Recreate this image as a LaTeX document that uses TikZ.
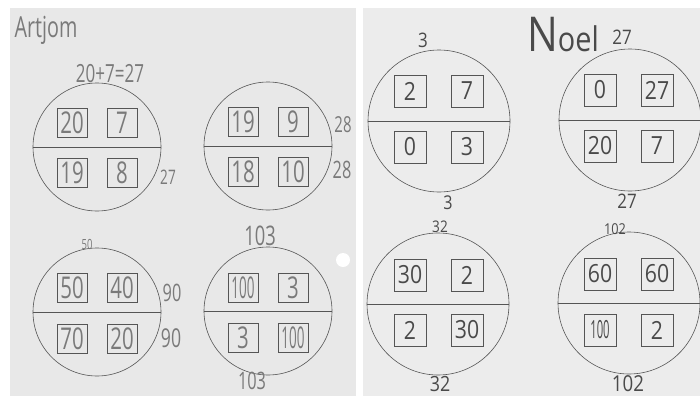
\documentclass[tikz,border=0pt]{standalone}
\usepackage{fontspec}
\newfontfamily\lh[FakeStretch=0.68]{Open Sans}
\newfontfamily\rh[FakeStretch=0.85]{Open Sans}
\newfontfamily\nh[FakeStretch=0.45]{Open Sans}
\definecolor{pageL}{HTML}{E8E8E8}
\definecolor{pageR}{HTML}{ECECEC}
\definecolor{ink}{HTML}{555555}
\definecolor{pencil}{HTML}{7A7A7A}
\definecolor{penR}{HTML}{4A4A4A}
\tikzset{
  ring/.style={circle,draw=ink,line width=0.6pt,inner sep=0pt},
  ringL/.style={ring,minimum size=128pt},
  ringR/.style={ring,minimum size=142pt},
  mid/.style={draw=ink,line width=0.6pt},
  boxL/.style={draw=ink,line width=0.5pt,minimum width=30pt,minimum height=29pt,inner sep=0pt,text=pencil,font=\lh\fontsize{30}{30}\selectfont},
  boxLn/.style={boxL,font=\nh\fontsize{30}{30}\selectfont},
  boxR/.style={draw=ink,line width=0.5pt,minimum size=32pt,inner sep=0pt,text=penR,font=\rh\fontsize{25}{25}\selectfont},
  boxRn/.style={boxR,font=\nh\fontsize{25}{25}\selectfont},
  noteL/.style={inner sep=0pt,text=pencil,font=\lh\fontsize{#1}{#1}\selectfont},
  noteR/.style={inner sep=0pt,text=penR,font=\rh\fontsize{#1}{#1}\selectfont}
}
\begin{document}
\begin{tikzpicture}[x=1pt,y=-1pt]
\useasboundingbox (0,0) rectangle (700,396);
\fill[white] (0,0) rectangle (700,396);
\fill[pageL] (10,8) rectangle (356,396);
\fill[pageR] (363,8) rectangle (700,396);
\fill[white] (343,260) circle (7);
% ---- left page
\node[noteL=29] (artjom) at (46,30) {Artjom};
\node[noteL=25] (sumA) at (110,74) {20+7=27};
\node[ringL] (A) at (97,147) {};
\node[ringL] (B) at (268,146) {};
\node[ringL] (C) at (97,312) {};
\node[ringL] (D) at (268,311) {};
\foreach \c in {A,B,C,D} \draw[mid] (\c.west) -- (\c.east);
\node[boxL] (a1) at (72,123) {20};
\node[boxL] (a2) at (122,123) {7};
\node[boxL] (a3) at (72,173) {19};
\node[boxL] (a4) at (122,173) {8};
\node[boxL] (b1) at (243,122) {19};
\node[boxL] (b2) at (293,122) {9};
\node[boxL] (b3) at (243,172) {18};
\node[boxL] (b4) at (293,172) {10};
\node[boxL] (c1) at (72,288) {50};
\node[boxL] (c2) at (122,288) {40};
\node[boxL] (c3) at (72,339) {70};
\node[boxL] (c4) at (122,339) {20};
\node[boxLn] (d1) at (243,288) {100};
\node[boxL] (d2) at (293,288) {3};
\node[boxL] (d3) at (243,338) {3};
\node[boxLn] (d4) at (293,338) {100};
\node[noteL=20] (tA) at (168,177) {27};
\node[noteL=22] (tB1) at (343,125) {28};
\node[noteL=24] (tB2) at (342,170) {28};
\node[noteL=14] (tC0) at (87,244) {50};
\node[noteL=24] (tC1) at (172,293) {90};
\node[noteL=26] (tC2) at (171,338) {90};
\node[noteL=27] (tD1) at (260,236) {103};
\node[noteL=24] (tD2) at (252,381) {103};
% ---- right page
\node[noteR=20] (tE0) at (423,40) {3};
\node[noteR=34,anchor=base west] (noel) at (527,52) {{\fontsize{48}{48}\selectfont N}oel};
\node[noteR=20] (tF0) at (622,37) {27};
\node[ringR] (E) at (439,121) {};
\node[ringR] (F) at (630,120) {};
\node[ringR] (G) at (438,304) {};
\node[ringR] (H) at (629,303) {};
\foreach \c in {E,F,G,H} \draw[mid] (\c.west) -- (\c.east);
\node[boxR] (e1) at (410,91) {2};
\node[boxR] (e2) at (467,91) {7};
\node[boxR] (e3) at (410,147) {0};
\node[boxR] (e4) at (467,147) {3};
\node[boxR] (f1) at (600,90) {0};
\node[boxR] (f2) at (657,90) {27};
\node[boxR] (f3) at (600,146) {20};
\node[boxR] (f4) at (657,146) {7};
\node[boxR] (g1) at (410,275) {30};
\node[boxR] (g2) at (467,275) {2};
\node[boxR] (g3) at (410,330) {2};
\node[boxR] (g4) at (467,330) {30};
\node[boxR] (h1) at (600,274) {60};
\node[boxR] (h2) at (657,274) {60};
\node[boxRn] (h3) at (600,330) {100};
\node[boxR] (h4) at (657,330) {2};
\node[noteR=19] (tE1) at (448,203) {3};
\node[noteR=20] (tF1) at (627,201) {27};
\node[noteR=16] (tG0) at (440,227) {32};
\node[noteR=21] (tG1) at (440,384) {32};
\node[noteR=15] (tH0) at (615,229) {102};
\node[noteR=22] (tH1) at (628,384) {102};
\end{tikzpicture}
\end{document}
